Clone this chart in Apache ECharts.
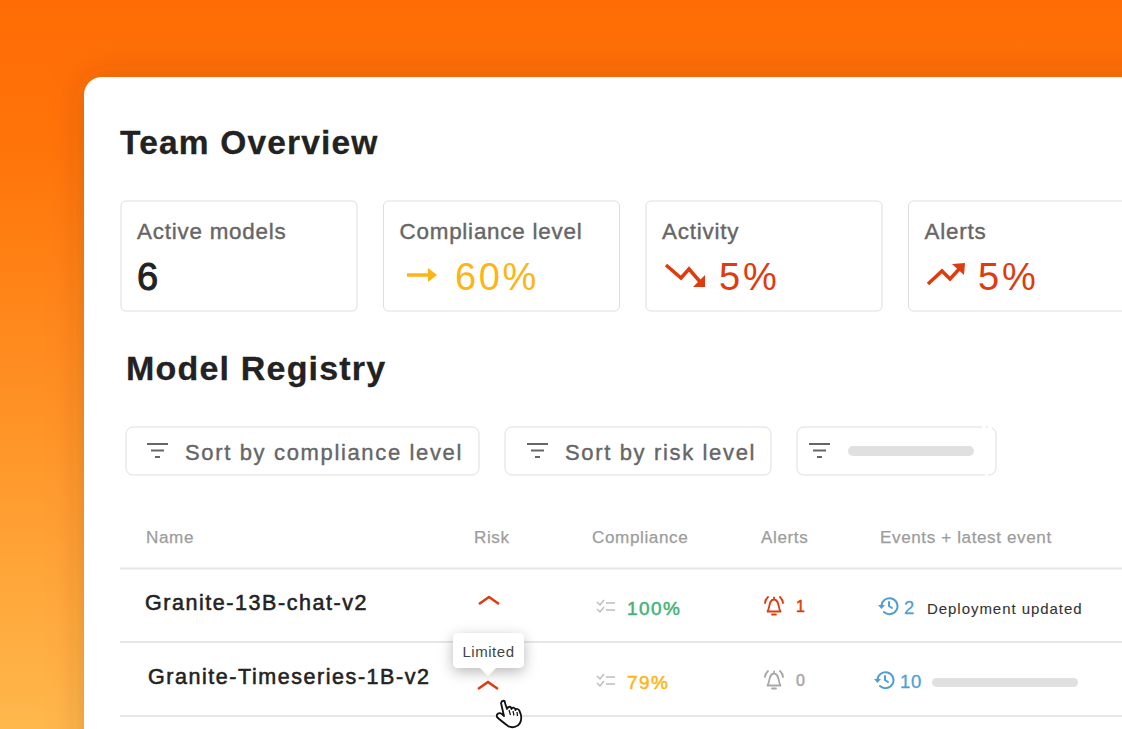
<!DOCTYPE html>
<html>
<head>
<meta charset="UTF-8">
<title>Team Overview</title>
<style>
html,body{margin:0;padding:0;background:#fff;overflow:hidden;}
#main{width:1122px;height:729px;}
/* the source UI is set with wide tracking */
#main svg text{letter-spacing:.035em;}
</style>
</head>
<body>
<div id="main"></div>
<script src="https://cdn.jsdelivr.net/npm/echarts@6/dist/echarts.min.js"></script>
<script>
var kpiTitles = ['Active models', 'Compliance level', 'Activity', 'Alerts'];
var kpiValues = ['6', '60%', '5%', '5%'];
var filterLabels = ['Sort by compliance level', 'Sort by risk level'];
var tableHeaders = ['Name', 'Risk', 'Compliance', 'Alerts', 'Events + latest event'];
var modelNames = ['Granite-13B-chat-v2', 'Granite-Timeseries-1B-v2'];
var complianceValues = ['100%', '79%'];
var alertCounts = ['1', '0'];
var eventCounts = ['2', '10'];
var latestEvents = ['Deployment updated'];
var tooltipText = 'Limited';

var FONT = '"Liberation Sans", Arial, sans-serif';
var ORANGE = '#fdb515', RED = '#de3b0e', GREEN = '#46b277', BLUE = '#4f9fd4';
var items = [];
// extra tracking in px for the strings that run wider than the default
var tracking = {};

// heavy: stroke width that thickens the regular weight a little
function text(x, y, str, size, color, weight, align, heavy) {
  items.push({type: 'text', x: x, y: y, silent: true, style: {
    text: str, fontFamily: FONT, fontSize: size, fontWeight: weight || 'normal',
    fill: color, align: align || 'left', verticalAlign: 'middle',
    stroke: heavy ? color : null, lineWidth: heavy || 0
  }});
}
function box(x, y, w, h, r, stroke, fill) {
  items.push({type: 'rect', silent: true, shape: {x: x, y: y, width: w, height: h, r: r},
    style: {fill: fill || '#fff', stroke: stroke || null, lineWidth: stroke ? 1 : 0}});
}
function line(pts, color, w) {
  items.push({type: 'polyline', silent: true, shape: {points: pts},
    style: {stroke: color, lineWidth: w, fill: null, lineJoin: 'miter'}});
}
function tri(pts, color) {
  items.push({type: 'polygon', silent: true, shape: {points: pts}, style: {fill: color}});
}
// the graphic component has no plain path type, so svg paths get registered as shapes
function regPath(name, d) {
  echarts.graphic.registerShape(name, echarts.graphic.extendPath(d, {}));
}
function icon(name, x, y, color, w, fill) {
  items.push({type: name, silent: true, x: x, y: y,
    style: {stroke: color, lineWidth: w, fill: fill || null, lineCap: 'round', lineJoin: 'round'}});
}

regPath('bell', 'M-6.5 6.5C-4 3-5.5-5.5 0-5.5C5.5-5.5 4 3 6.5 6.5ZM-2 9.5L2 9.5M0-7.5L0-5.5M-9-2Q-9-5-6-8M9-2Q9-5 6-8');
regPath('clock', 'M-7.5 0A8 8 0 1 1-5 6M0-4L0 0L3 2');
regPath('hand', 'M501 703C502 700 505 700 505 703L507 709C508 706 511 706 511.5 709C512 707 515 707 515.5 710C516 708 519 709 519.5 711' +
  'C521 714 522 719 520 723C518 727 512 728.5 508 726C504 723 500 720 497 717C496 714 499 712 502 714L504 716Z');

// background and main panel
items.push({type: 'rect', silent: true, shape: {x: 0, y: 0, width: 1122, height: 729}, style: {
  fill: new echarts.graphic.LinearGradient(0, 0, 0, 1, [
    {offset: 0, color: '#ff6c05'}, {offset: 0.2, color: '#ff7409'},
    {offset: 0.6, color: '#ff9528'}, {offset: 1, color: '#ffb84c'}
  ])
}});
items.push({type: 'rect', silent: true, shape: {x: 84, y: 77, width: 1100, height: 720, r: 18}, style: {
  fill: '#fff', shadowBlur: 34, shadowColor: 'rgba(130,50,0,.26)', shadowOffsetX: 0, shadowOffsetY: 0
}});

text(120, 142, 'Team Overview', 33.5, '#222', 'bold', 'left', 0.3);

// KPI cards
var cardX = [121, 383.5, 646, 908.5];
var valueX = [137, 455, 719, 978];
var valueColors = ['#222', ORANGE, RED, RED];
kpiTitles.forEach(function (t, i) {
  box(cardX[i], 201, 236, 110, 5, '#dedede');
  text(cardX[i] + 16, 231.5, t, 22.4, '#666', 'normal', 'left', 0.4);
  text(valueX[i], 277, kpiValues[i], 38, valueColors[i], 'normal', 'left', i === 0 ? 1 : 0);
});
tracking[kpiValues[1]] = 2.6;
tracking[kpiValues[2]] = 2.8;
// trend arrows
line([[407, 275], [431, 275]], ORANGE, 3.5);
tri([[428, 268], [437, 275], [428, 282]], ORANGE);
line([[666, 265], [681, 278], [689, 269], [702, 284]], RED, 3.5);
tri([[705, 275], [705, 287], [693, 287]], RED);
line([[928, 284], [942, 271], [950, 279], [962, 266]], RED, 3.5);
tri([[952, 264], [965, 263], [964, 275]], RED);

text(126, 368, 'Model Registry', 34, '#222', 'bold', 'left', 0.3);

// filter buttons
function filterIcon(x) {
  line([[x, 444], [x + 21, 444]], '#666', 2);
  line([[x + 4, 450.5], [x + 17, 450.5]], '#666', 2);
  line([[x + 8, 457], [x + 13, 457]], '#666', 2);
}
box(126, 427, 353, 48, 7, '#dedede');
box(505, 427, 266, 48, 7, '#dedede');
box(797, 427, 199, 48, 7, '#dedede');
filterIcon(147);
filterIcon(527);
filterIcon(809);
text(185, 452, filterLabels[0], 22, '#666', 'normal', 'left', 0.4);
text(565, 452, filterLabels[1], 22, '#666', 'normal', 'left', 0.4);
tracking[filterLabels[0]] = 1.65;
tracking[filterLabels[1]] = 1.65;
box(848, 446, 126, 10, 5, null, '#e0e0e0');
// small gaps in the third button's border
line([[982, 427], [986, 427]], '#fff', 2);
line([[988, 427], [992, 427]], '#fff', 2);
line([[985, 475], [988, 475]], '#fff', 2);

// table
var headerX = [146, 474, 592, 761, 880];
tableHeaders.forEach(function (t, i) {
  text(headerX[i], 537, t, 17.1, '#9c9c9c', 'normal', 'left', 0.25);
});
[568.5, 642, 716].forEach(function (y) {
  line([[120, y], [1122, y]], '#e6e6e6', 2);
});

var rowNameX = [145, 148];
var rowNameY = [603, 677];
var rowY = [607, 681];
var chevronY = [597, 682];
var chevronX = [479, 478];
var complianceColors = [GREEN, ORANGE];
var alertColors = [RED, '#a8a8a8'];
var historyX = [889, 885];
var eventX = [904, 900];

modelNames.forEach(function (name, i) {
  var y = rowY[i];
  text(rowNameX[i], rowNameY[i], name, 21.5, '#222', 'normal', 'left', 0.55);
  tracking[name] = 1.55;
  // risk chevron
  line([[chevronX[i], chevronY[i] + 7], [chevronX[i] + 10, chevronY[i]], [chevronX[i] + 20, chevronY[i] + 7]], RED, 2.5);
  // compliance checklist
  [-4, 3].forEach(function (dy) {
    line([[597, y + dy - 1], [600, y + dy + 2], [604, y + dy - 3]], '#bdbdbd', 1.5);
    line([[606, y + dy], [615, y + dy]], '#bdbdbd', 1.5);
  });
  text(627, y + 1, complianceValues[i], 19, complianceColors[i], 'normal', 'left', 0.5);
  tracking[complianceValues[i]] = 1.4;
  // alerts
  icon('bell', 774, y - 2, alertColors[i], 1.8);
  text(796, y - 1, alertCounts[i], 16, alertColors[i], 'normal', 'left', 0.5);
  // events
  icon('clock', historyX[i], y - 1, BLUE, 2);
  tri([[historyX[i] - 11, y - 2], [historyX[i] - 4, y - 2], [historyX[i] - 7.5, y + 2]], BLUE);
  text(eventX[i], y, eventCounts[i], 18.5, BLUE, 'normal', 'left', 0.3);
});
text(927, 608, latestEvents[0], 15, '#333', 'normal', 'left', 0.1);
tracking[latestEvents[0]] = 0.95;
box(932, 678, 146, 9, 4.5, null, '#e0e0e0');

// tooltip on the hovered risk cell
items.push({type: 'rect', silent: true, shape: {x: 453, y: 633, width: 71, height: 35, r: 5}, style: {
  fill: '#fff', shadowBlur: 14, shadowColor: 'rgba(0,0,0,.28)', shadowOffsetY: 4
}});
tri([[479, 667], [497, 667], [488, 676]], '#fff');
text(488.5, 651.5, tooltipText, 15, '#444', 'normal', 'center');

// hand cursor
icon('hand', 0, 0, '#111', 1.8, '#fff');
line([[509, 710], [510.5, 715]], '#111', 1.2);
line([[513, 711], [514, 715.5]], '#111', 1.2);
line([[517, 712], [517.5, 716]], '#111', 1.2);

var chart = echarts.init(document.getElementById('main'), null, {renderer: 'svg'});
chart.setOption({animation: false, graphic: {elements: items}});

var nodes = document.querySelectorAll('#main svg text');
for (var i = 0; i < nodes.length; i++) {
  var t = tracking[nodes[i].textContent];
  if (t) nodes[i].style.letterSpacing = t + 'px';
}
</script>
</body>
</html>
